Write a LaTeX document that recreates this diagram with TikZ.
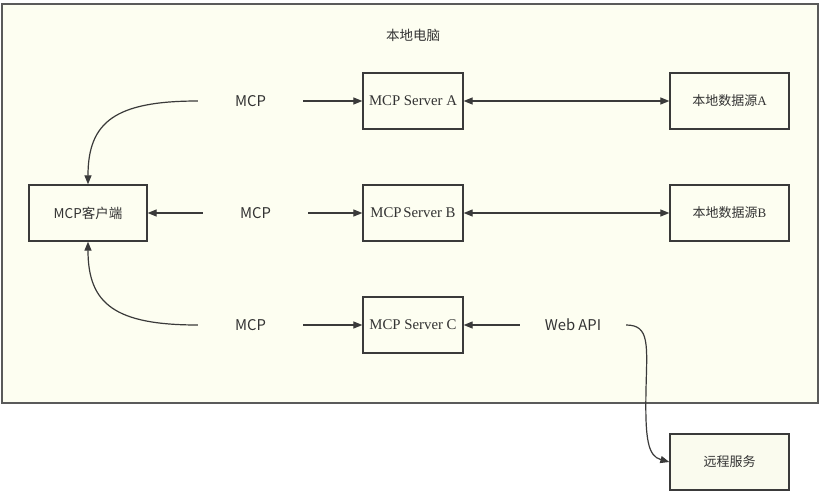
\documentclass[tikz,border=0pt]{standalone}
\usepackage{fontspec}
\setmainfont{Liberation Serif}
\newfontfamily\cjk{Noto Sans CJK SC}
\usetikzlibrary{arrows.meta}
\definecolor{cream}{HTML}{FDFEF1}
\definecolor{creamb}{HTML}{FAFBEE}
\definecolor{outline}{HTML}{5A5A5A}
\definecolor{boxline}{HTML}{3A3A3A}
\definecolor{txt}{HTML}{333333}
\begin{document}
\begin{tikzpicture}[x=1pt,y=-1pt,
  box/.style={draw=boxline, fill=cream, line width=1.3pt, minimum width=100pt, minimum height=56pt, inner sep=0pt, text=txt, font=\fontsize{14.8}{16}\selectfont},
  cbox/.style={box, font=\cjk\fontsize{13}{15}\selectfont},
  lbl/.style={minimum width=105pt, minimum height=20pt, inner sep=0pt, text=txt, font=\cjk\fontsize{14.8}{16}\selectfont},
  arr/.style={draw=boxline, line width=1.2pt, -{Triangle[length=9pt,width=7pt]}},
  arrtwo/.style={draw=boxline, line width=1.2pt, {Triangle[length=9pt,width=7pt]}-{Triangle[length=9pt,width=7pt]}}
]
\useasboundingbox (0,0) rectangle (825,491);
\fill[white] (0,0) rectangle (825,491);
\draw[draw=outline, fill=cream, line width=1.5pt] (2,4) rectangle (818,403);

\node[text=txt, font=\cjk\fontsize{13.5}{15}\selectfont] (title) at (413,35) {本地电脑};

\node[box] (sa) at (413,101) {MCP Server A};
\node[box] (sb) at (413,213) {MCP\hspace{0.12em}Server B};
\node[box] (sc) at (413,325) {MCP Server C};
\node[cbox, minimum width=119pt] (da) at (729.5,101) {本地数据源{\rmfamily\fontsize{13}{15}\selectfont A}};
\node[cbox, minimum width=119pt] (db) at (729.5,213) {本地数据源{\rmfamily\fontsize{13}{15}\selectfont B}};
\node[cbox, minimum width=119pt, fill=creamb] (rs) at (729.5,462) {远程服务};
\node[cbox, minimum width=118pt, font=\cjk\fontsize{13.5}{15}\selectfont] (cl) at (88,213) {MCP客户端};

\node[lbl] (ma) at (250.5,101) {MCP};
\node[lbl] (mb) at (255.5,213) {MCP};
\node[lbl] (mc) at (250.5,325) {MCP};
\node[lbl, minimum width=106pt] (wa) at (573,325) {Web API};

\draw[arr] (ma.east) -- (sa.west);
\draw[arr] (mb.east) -- (sb.west);
\draw[arr] (mc.east) -- (sc.west);
\draw[arrtwo] (sa.east) -- (da.west);
\draw[arrtwo] (sb.east) -- (db.west);
\draw[arr] (wa.west) -- (sc.east);
\draw[arr] (mb.west) -- (cl.east);
\draw[arr] (ma.west) .. controls (115,101) and (88,122) .. (cl.north);
\draw[arr] (mc.west) .. controls (115,325) and (88,304) .. (cl.south);
\coordinate (bend) at (646,390);
\draw[arr] (wa.east) .. controls (650,325) and (647,345) .. (bend) .. controls (645,440) and (648,456) .. (rs.west);
\end{tikzpicture}
\end{document}
